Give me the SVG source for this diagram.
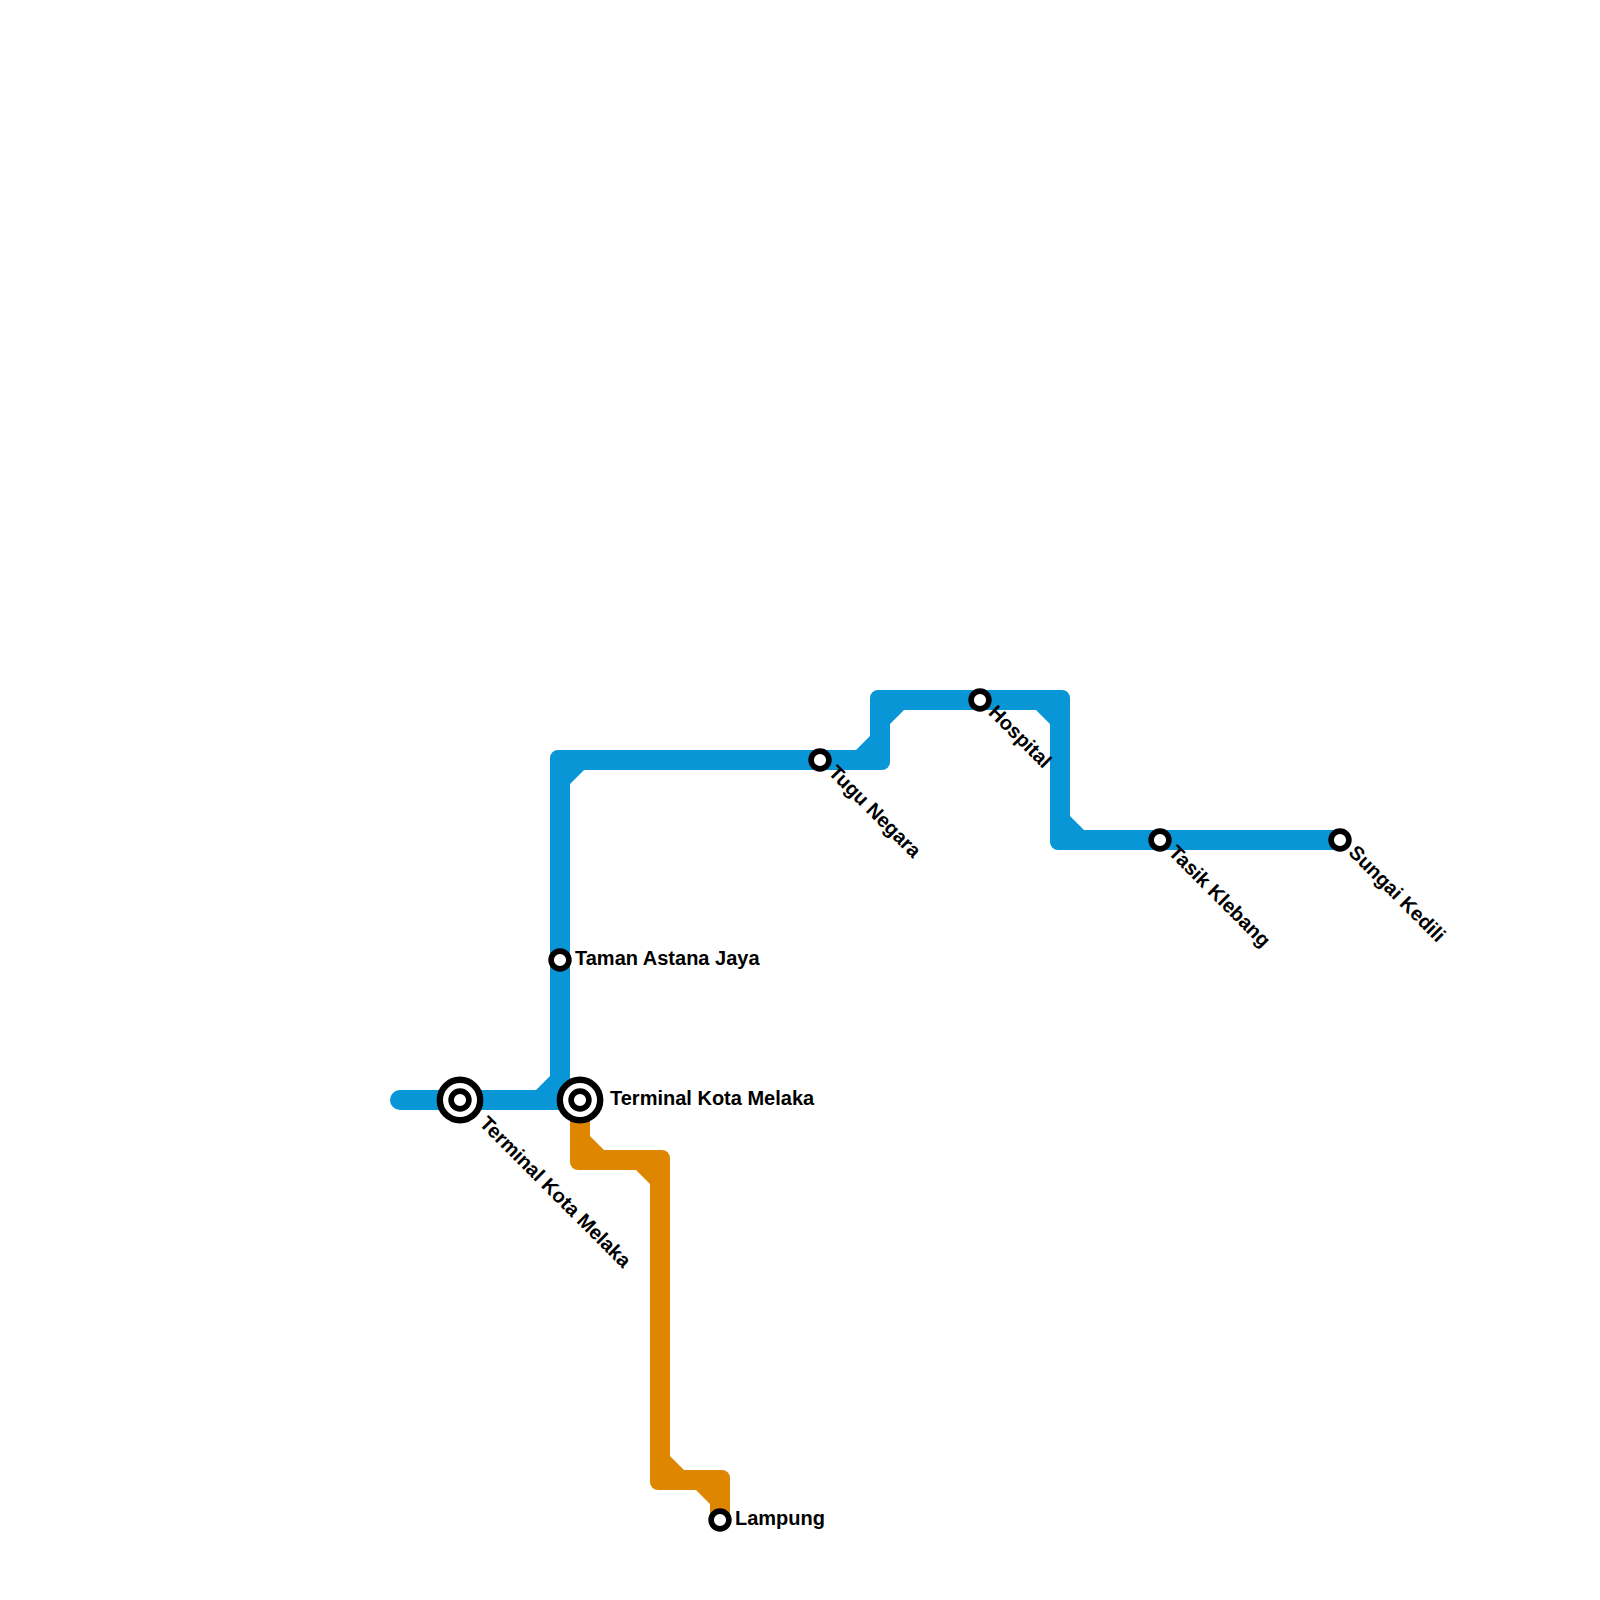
<svg xmlns="http://www.w3.org/2000/svg" width="1600" height="1600" viewBox="0 0 1600 1600">
<style>
.blue{fill:#0896d7}
.orange{fill:#df8600}
.ring{fill:#fff;stroke:#000;stroke-width:5.6}
.big{stroke-width:6.4}
text{font-family:"Liberation Sans",Arial,sans-serif;font-weight:700;font-size:20px;fill:#000}
</style>
<rect width="1600" height="1600" fill="#fff"/>
<g id="connectors">
<path id="line-orange" class="orange" d="M570 1100H590V1136L604 1150H662A8 8 0 0 1 670 1158V1456L684 1470H722A8 8 0 0 1 730 1478V1520H710V1504L696 1490H658A8 8 0 0 1 650 1482V1184L636 1170H578A8 8 0 0 1 570 1162Z"/>
<path id="line-blue" class="blue" d="M400 1090H536L550 1076V758A8 8 0 0 1 558 750H856L870 736V698A8 8 0 0 1 878 690H1062A8 8 0 0 1 1070 698V816L1084 830H1340V850H1058A8 8 0 0 1 1050 842V724L1036 710H904L890 724V762A8 8 0 0 1 882 770H584L570 784V1110H400A10 10 0 0 1 400 1090Z"/>
</g>
<g id="station-terminal-1"><circle class="ring big" cx="460" cy="1100" r="20.2"/><circle class="ring" cx="460" cy="1100" r="8.9"/><text transform="translate(478.500 1124.500) rotate(45)">Terminal Kota Melaka</text></g>
<g id="station-terminal-2"><circle class="ring big" cx="580" cy="1100" r="20.2"/><circle class="ring" cx="580" cy="1100" r="8.9"/><text x="610" y="1104.500">Terminal Kota Melaka</text></g>
<g id="station-taman"><circle class="ring" cx="560" cy="960" r="8.9"/><text x="575" y="964.500">Taman Astana Jaya</text></g>
<g id="station-tugu"><circle class="ring" cx="820" cy="760" r="8.9"/><text transform="translate(827.500 773.500) rotate(45)">Tugu Negara</text></g>
<g id="station-hospital"><circle class="ring" cx="980" cy="700" r="8.9"/><text transform="translate(987.500 713.500) rotate(45)">Hospital</text></g>
<g id="station-tasik"><circle class="ring" cx="1160" cy="840" r="8.9"/><text transform="translate(1167.500 853.500) rotate(45)">Tasik Klebang</text></g>
<g id="station-sungai"><circle class="ring" cx="1340" cy="840" r="8.9"/><text transform="translate(1347.500 853.500) rotate(45)">Sungai Kedili</text></g>
<g id="station-lampung"><circle class="ring" cx="720" cy="1520" r="8.9"/><text x="735" y="1524.500">Lampung</text></g>
</svg>
